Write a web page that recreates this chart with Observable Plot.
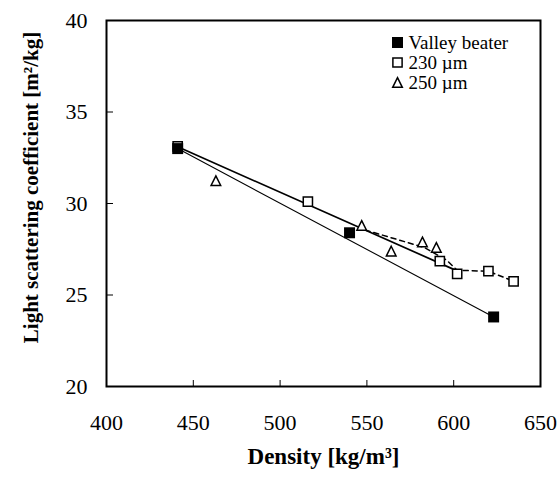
<!DOCTYPE html>
<html>
<head>
<meta charset="utf-8">
<script src="https://cdn.jsdelivr.net/npm/d3@7"></script>
<script src="https://cdn.jsdelivr.net/npm/@observablehq/plot@0.6"></script>
<style>
  html, body { margin: 0; padding: 0; background: #fff; }
  #chart svg { display: block; }
</style>
</head>
<body>
<div id="chart"></div>
<script>
// ---- data ----
const xTicks = [400, 450, 500, 550, 600, 650];
const yTicks = [20, 25, 30, 35, 40];

const valleyX = [441, 540, 623];
const valleyY = [33.0, 28.4, 23.8];

const um230X = [441, 516, 592, 602, 620, 634.5];
const um230Y = [33.12, 30.1, 26.85, 26.16, 26.3, 25.74];

const um250X = [463, 547, 564, 582, 590];
const um250Y = [31.25, 28.8, 27.4, 27.9, 27.6];

// fitted lines (end points / vertices)
const fitValleyX = [441, 623];
const fitValleyY = [33.0, 23.8];
const fit230X = [441, 600];
const fit230Y = [33.1, 26.4];
const dashX = [549, 583, 596, 602, 620, 634.5];
const dashY = [28.55, 27.6, 26.9, 26.35, 26.3, 25.75];

const legendLabels = ["Valley beater", "230 \u00b5m", "250 \u00b5m"];
const xTitle = "Density [kg/m\u00b3]";
const yTitle = "Light scattering coefficient [m\u00b2/kg]";

// ---- build ----
const toRows = (xs, ys) => xs.map((x, i) => ({x, y: ys[i]}));
const valley = toRows(valleyX, valleyY);
const um230 = toRows(um230X, um230Y);
const um250 = toRows(um250X, um250Y);

const tri = {
  draw(ctx, size) {
    const r = Math.sqrt(size / Math.PI);
    ctx.moveTo(0, -r);
    ctx.lineTo(r, r);
    ctx.lineTo(-r, r);
    ctx.closePath();
  }
};

const serif = "'Liberation Serif', 'Times New Roman', serif";
const legendSymbols = [
  {symbol: "square", fill: "black", stroke: "none", r: 6.2},
  {symbol: "square", fill: "white", stroke: "black", r: 5.2},
  {symbol: tri, fill: "white", stroke: "black", r: 4.8}
];

const legendMarks = legendLabels.flatMap((lab, i) => [
  Plot.dot([lab], {frameAnchor: "top-left", dx: 291, dy: 22 + 20 * i,
    symbol: legendSymbols[i].symbol, fill: legendSymbols[i].fill,
    stroke: legendSymbols[i].stroke, strokeWidth: 1.5, r: legendSymbols[i].r}),
  Plot.text([lab], {frameAnchor: "top-left", dx: 302, dy: 22 + 20 * i,
    text: d => d, textAnchor: "start", lineAnchor: "middle", fontSize: 19, fill: "black"})
]);

const chart = Plot.plot({
  width: 558,
  height: 482,
  marginLeft: 106,
  marginRight: 18,
  marginTop: 20,
  marginBottom: 96,
  style: {fontFamily: serif, fontSize: "22px", background: "white", color: "black"},
  x: {domain: [400, 650], label: null},
  y: {domain: [20, 40], label: null},
  marks: [
    Plot.axisX({ticks: xTicks, tickSize: -6, tickPadding: 34, tickFormat: d => String(d), fontSize: 22, label: null}),
    Plot.axisY({ticks: yTicks, tickSize: -7, tickPadding: 26, tickFormat: d => String(d), fontSize: 22, label: null}),
    Plot.line(toRows(fitValleyX, fitValleyY), {x: "x", y: "y", stroke: "black", strokeWidth: 1.1}),
    Plot.line(toRows(fit230X, fit230Y), {x: "x", y: "y", stroke: "black", strokeWidth: 1.7}),
    Plot.line(toRows(dashX, dashY), {x: "x", y: "y", stroke: "black", strokeWidth: 1.5, strokeDasharray: "5,4"}),
    Plot.dot(um250, {x: "x", y: "y", symbol: tri, r: 4.8, fill: "white", stroke: "black", strokeWidth: 1.5}),
    Plot.dot(um230, {x: "x", y: "y", symbol: "square", r: 5.2, fill: "white", stroke: "black", strokeWidth: 1.5}),
    Plot.dot(valley, {x: "x", y: "y", symbol: "square", r: 6.2, fill: "black", stroke: "none"}),
    ...legendMarks,
    Plot.frame({stroke: "black", strokeWidth: 2}),
    Plot.text([xTitle], {frameAnchor: "bottom", dy: 70, text: d => d, textAnchor: "middle", lineAnchor: "middle", fontSize: 23, fontWeight: "bold", fill: "black"}),
    Plot.text([yTitle], {frameAnchor: "left", dx: -75, dy: -16, rotate: -90, text: d => d, textAnchor: "middle", lineAnchor: "middle", fontSize: 21, fontWeight: "bold", fill: "black"})
  ]
});
document.getElementById("chart").appendChild(chart);
</script>
</body>
</html>
